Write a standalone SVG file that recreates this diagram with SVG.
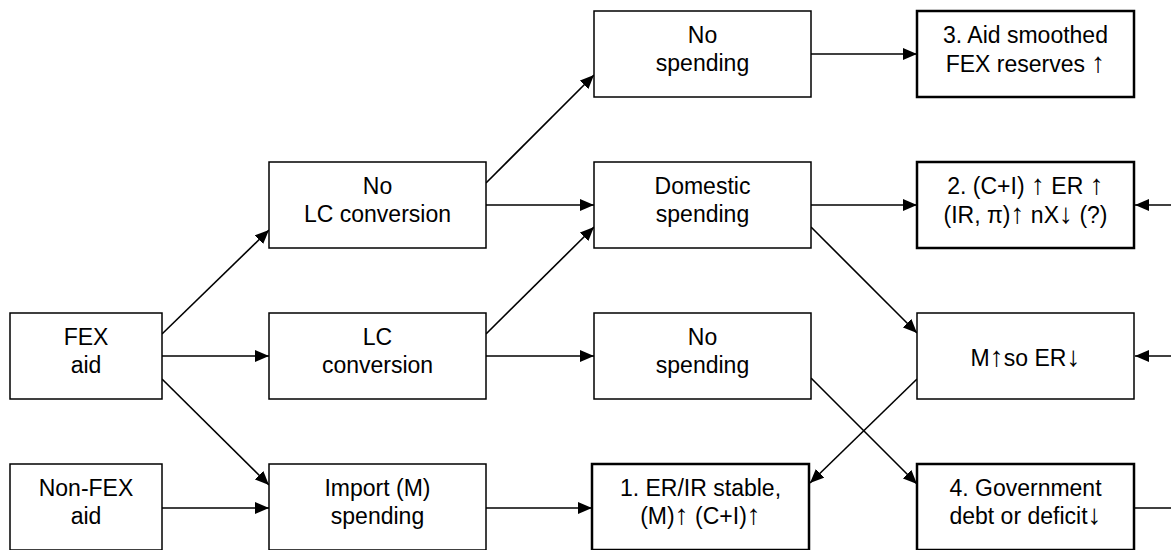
<svg xmlns="http://www.w3.org/2000/svg" width="1171" height="550" viewBox="0 0 1171 550">
<style>
.box{fill:#fff;stroke:#000;stroke-width:1.5}
.res{fill:#fff;stroke:#000;stroke-width:2.5}
text{font-family:"Liberation Sans",Arial,"DejaVu Sans",sans-serif;font-size:23px;fill:#000;text-anchor:middle}
.ar{font-size:28px}
.c line{stroke:#000;stroke-width:1.6}
</style>
<defs>
<marker id="ah" markerUnits="userSpaceOnUse" markerWidth="15" markerHeight="13" refX="14" refY="6" orient="auto">
<path d="M0,0 L14,6 L0,12 z" fill="#000"/>
</marker>
</defs>
<rect width="1171" height="550" fill="#fff"/>
<g class="c">
<line x1="162" y1="334" x2="269" y2="230" marker-end="url(#ah)"/>
<line x1="162" y1="356" x2="269" y2="356" marker-end="url(#ah)"/>
<line x1="162" y1="379" x2="269" y2="485" marker-end="url(#ah)"/>
<line x1="162" y1="508" x2="269" y2="508" marker-end="url(#ah)"/>
<line x1="486" y1="183" x2="594" y2="75" marker-end="url(#ah)"/>
<line x1="486" y1="205" x2="594" y2="205" marker-end="url(#ah)"/>
<line x1="486" y1="334" x2="594" y2="227" marker-end="url(#ah)"/>
<line x1="486" y1="356" x2="594" y2="356" marker-end="url(#ah)"/>
<line x1="486" y1="508" x2="592" y2="508" marker-end="url(#ah)"/>
<line x1="811" y1="54" x2="917" y2="54" marker-end="url(#ah)"/>
<line x1="811" y1="205" x2="917" y2="205" marker-end="url(#ah)"/>
<line x1="811" y1="227" x2="917" y2="333" marker-end="url(#ah)"/>
<line x1="917" y1="379" x2="810" y2="483" marker-end="url(#ah)"/>
<line x1="811" y1="378" x2="917" y2="484" marker-end="url(#ah)"/>
<line x1="1171" y1="205" x2="1135" y2="205" marker-end="url(#ah)"/>
<line x1="1171" y1="356" x2="1135" y2="356" marker-end="url(#ah)"/>
<line x1="1134" y1="508" x2="1171" y2="508"/>
</g>
<g id="fex"><rect class="box" x="10" y="313" width="152" height="86"/><text x="86" y="345">FEX</text><text x="86" y="373">aid</text></g>
<g id="nonfex"><rect class="box" x="10" y="464" width="152" height="86"/><text x="86" y="496">Non-FEX</text><text x="86" y="524">aid</text></g>
<g id="nolc"><rect class="box" x="269" y="162" width="217" height="86"/><text x="377.5" y="194">No</text><text x="377.5" y="222">LC conversion</text></g>
<g id="lc"><rect class="box" x="269" y="313" width="217" height="86"/><text x="377.5" y="345">LC</text><text x="377.5" y="373">conversion</text></g>
<g id="import"><rect class="box" x="269" y="464" width="217" height="86"/><text x="377.5" y="496">Import (M)</text><text x="377.5" y="524">spending</text></g>
<g id="nospend1"><rect class="box" x="594" y="11" width="217" height="86"/><text x="702.5" y="43">No</text><text x="702.5" y="71">spending</text></g>
<g id="domestic"><rect class="box" x="594" y="162" width="217" height="86"/><text x="702.5" y="194">Domestic</text><text x="702.5" y="222">spending</text></g>
<g id="nospend2"><rect class="box" x="594" y="313" width="217" height="86"/><text x="702.5" y="345">No</text><text x="702.5" y="373">spending</text></g>
<g id="r1"><rect class="res" x="592" y="464" width="217" height="86"/><text x="700.5" y="496">1. ER/IR stable,</text><text x="700.5" y="524">(M)<tspan class="ar">↑</tspan> (C+I)<tspan class="ar">↑</tspan></text></g>
<g id="r3"><rect class="res" x="917" y="11" width="217" height="86"/><text x="1025.5" y="43">3. Aid smoothed</text><text x="1025.5" y="72">FEX reserves <tspan class="ar">↑</tspan></text></g>
<g id="r2"><rect class="res" x="917" y="162" width="217" height="86"/><text x="1025.5" y="194">2. (C+I) <tspan class="ar">↑</tspan> ER <tspan class="ar">↑</tspan></text><text x="1025.5" y="223">(IR, π)<tspan class="ar">↑</tspan> nX<tspan class="ar">↓</tspan> (?)</text></g>
<g id="mso"><rect class="box" x="917" y="313" width="217" height="86"/><text x="1025.5" y="366">M<tspan class="ar">↑</tspan>so ER<tspan class="ar">↓</tspan></text></g>
<g id="r4"><rect class="res" x="917" y="464" width="217" height="86"/><text x="1025.5" y="496">4. Government</text><text x="1025.5" y="524">debt or deficit<tspan class="ar">↓</tspan></text></g>
</svg>
